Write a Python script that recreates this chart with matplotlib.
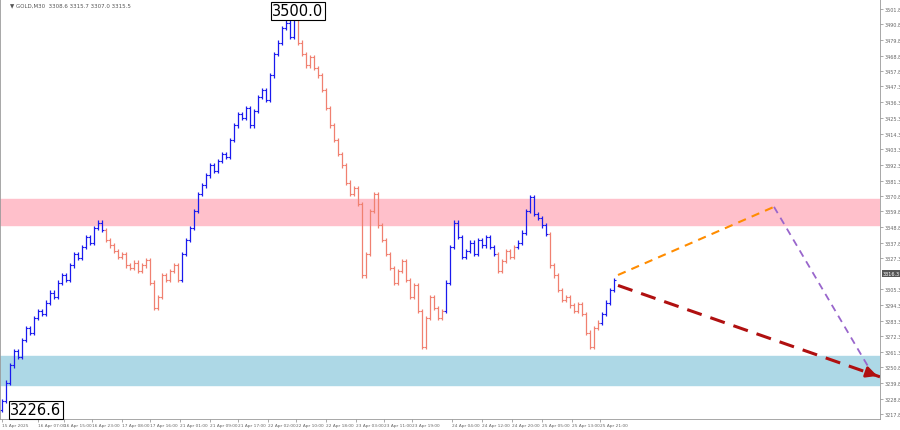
import matplotlib
matplotlib.use("Agg")
import matplotlib.pyplot as plt
import numpy as np

# closes per bar, grouped by wave segment (blue = up, salmon = down)
seg_closes = [
    [3227, 3240, 3252, 3262, 3258, 3270, 3278, 3275, 3285, 3290, 3288, 3296, 3303, 3300, 3310, 3315,
     3312, 3322, 3330, 3327, 3335, 3342, 3338, 3348, 3352, 3347],
    [3340, 3336, 3332, 3328, 3330, 3322, 3320, 3324, 3318, 3322, 3326, 3310, 3292, 3300, 3315, 3312,
     3318, 3322, 3312],
    [3330, 3340, 3348, 3360, 3372, 3378, 3385, 3392, 3388, 3395, 3400, 3398, 3410, 3420, 3428, 3425,
     3432, 3420, 3430, 3440, 3445, 3438, 3455, 3470, 3478, 3488, 3492, 3482, 3496],
    [3478, 3470, 3462, 3468, 3460, 3455, 3445, 3432, 3420, 3410, 3400, 3392, 3380, 3372, 3376, 3365,
     3315, 3330, 3360, 3372, 3350, 3340, 3330, 3320, 3310, 3318, 3325, 3312, 3300, 3308, 3290, 3265,
     3285, 3300, 3292, 3285, 3290],
    [3310, 3335, 3352, 3342, 3328, 3332, 3338, 3330, 3340, 3336, 3342, 3335, 3330],
    [3318, 3325, 3332, 3328, 3335],
    [3338, 3345, 3360, 3370, 3358, 3355, 3350, 3344],
    [3322, 3315, 3305, 3298, 3300, 3294, 3290, 3295, 3288, 3275, 3265, 3278, 3282],
    [3288, 3296, 3305, 3312],
]
seg_up = [True, False, True, False, True, False, True, False, True]

price_ticks = [3501.8, 3490.8, 3479.8, 3468.8, 3457.8, 3447.3, 3436.3, 3425.3, 3414.3, 3403.3,
               3392.3, 3381.3, 3370.8, 3359.8, 3348.8, 3337.8, 3327.3, 3305.3, 3294.3,
               3283.3, 3272.3, 3261.3, 3250.8, 3239.8, 3228.8, 3217.8]
current_price = 3316.3
time_pos = [0, 9, 15.5, 22.5, 30, 37, 44.5, 52, 59, 66.5, 73.5, 81, 88.5, 95.5, 102.5,
            112.5, 120, 127.5, 135, 142.5, 149.5]
time_labels = ["15 Apr 2025", "16 Apr 07:00", "16 Apr 15:00", "16 Apr 23:00", "17 Apr 08:00",
               "17 Apr 16:00", "21 Apr 01:00", "21 Apr 09:00", "21 Apr 17:00", "22 Apr 02:00",
               "22 Apr 10:00", "22 Apr 18:00", "23 Apr 03:00", "23 Apr 11:00", "23 Apr 19:00",
               "24 Apr 04:00", "24 Apr 12:00", "24 Apr 20:00", "25 Apr 05:00", "25 Apr 13:00",
               "25 Apr 21:00"]
resist_zone = (3350.2, 3368.7)
support_zone = (3238.5, 3258.4)
orange_path = [(154, 3315.3), (193, 3363.0)]
purple_path = [(193, 3363.0), (217, 3249.0)]
red_path = [(154, 3308.0), (219.5, 3244.0)]

fig = plt.figure(figsize=(9, 4.31), dpi=100)
ax = fig.add_axes([0.0, 1 - 420 / 431, 880 / 900, 420 / 431])
ax.set_xlim(-0.5, 219.5)
ax.set_ylim(3214.5, 3508.5)

ax.axhspan(*resist_zone, color="#ffc0cb", zorder=0)
ax.axhspan(*support_zone, color="#add8e6", zorder=0)

i = 0
prev = seg_closes[0][0] - 6
for closes, up in zip(seg_closes, seg_up):
    color = "#1a1aee" if up else "#f08070"
    for c in closes:
        o = prev
        hi, lo = max(o, c) + 1.5, min(o, c) - 1.5
        ax.vlines(i, lo, hi, color=color, lw=0.9)
        ax.hlines(o, i - 0.4, i, color=color, lw=0.8)
        ax.hlines(c, i, i + 0.4, color=color, lw=0.8)
        prev = c
        i += 1

xs, ys = zip(*orange_path)
ax.plot(xs, ys, color="#ff8c00", ls=(0, (4, 3)), lw=1.5)
xs, ys = zip(*purple_path)
ax.plot(xs, ys, color="#9966cc", ls=(0, (4, 3)), lw=1.3)
xs, ys = zip(*red_path)
ax.plot(xs, ys, color="#b01010", ls=(0, (5, 3)), lw=2.2)
ax.annotate("", xy=red_path[1], xytext=(red_path[1][0] - 4, red_path[1][1] + 3.9),
            arrowprops=dict(arrowstyle="-|>", color="#b01010", lw=2, mutation_scale=16))

ax.text(74, 3495, "3500.0", fontsize=10.5, ha="center", va="bottom",
        bbox=dict(boxstyle="square,pad=0.1", fc="white", ec="black", lw=0.8))
ax.text(2, 3221, "3226.6", fontsize=10.5, ha="left", va="center",
        bbox=dict(boxstyle="square,pad=0.1", fc="white", ec="black", lw=0.8))
ax.text(2, 3506, "\u25bc GOLD,M30  3308.6 3315.7 3307.0 3315.5", fontsize=4, color="#555555", va="top")

ax.yaxis.tick_right()
ax.set_yticks(price_ticks)
ax.set_yticklabels([f"{p:.1f}" for p in price_ticks], fontsize=3.5, color="#666666")
ax.text(1.003, current_price, f"{current_price:.1f}", transform=ax.get_yaxis_transform(),
        fontsize=3.5, color="white", va="center",
        bbox=dict(boxstyle="square,pad=0.2", fc="#555555", ec="none"))
ax.set_xticks(time_pos)
ax.set_xticklabels(time_labels, fontsize=3.1, color="#666666", ha="left")
ax.tick_params(length=2, width=0.5, color="#888888", pad=1)
for s in ax.spines.values():
    s.set_color("#999999")
    s.set_linewidth(0.6)

fig.savefig("out.png", dpi=100)
